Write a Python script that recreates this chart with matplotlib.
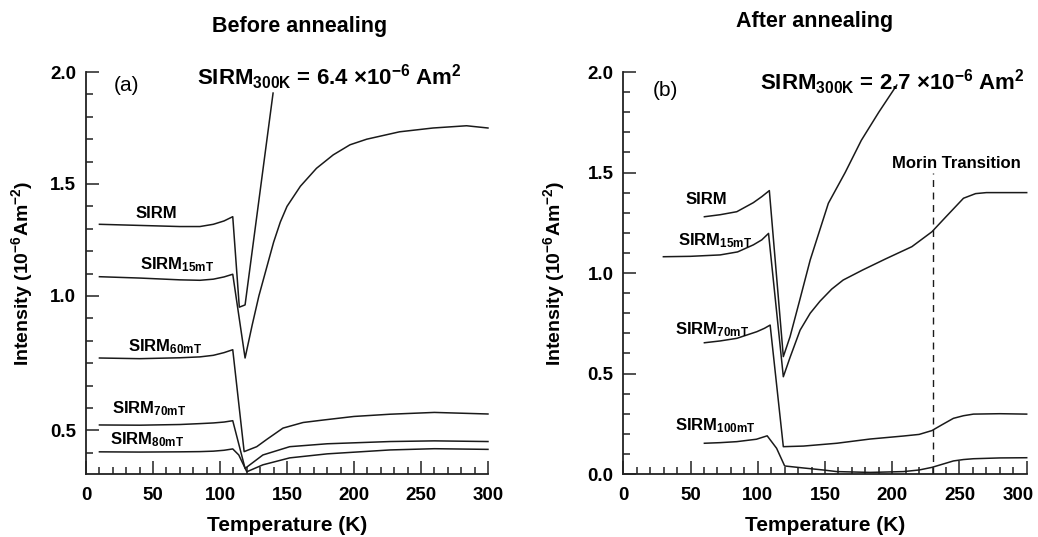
import matplotlib.pyplot as plt
import matplotlib.transforms as mtransforms
import numpy as np

plt.rcParams['font.family'] = ['Liberation Sans', 'DejaVu Sans']
plt.rcParams['mathtext.fontset'] = 'custom'
plt.rcParams['mathtext.rm'] = 'Liberation Sans:bold'
plt.rcParams['mathtext.bf'] = 'Liberation Sans:bold'
plt.rcParams['mathtext.it'] = 'Liberation Sans:bold'
plt.rcParams['mathtext.default'] = 'bf'

# ---- panel (a): before annealing ----
a_T_sirm = [10, 40, 70, 85, 95, 103, 109.5, 114.4, 118.7, 139.6]
a_sirm = [1.32, 1.315, 1.31, 1.31, 1.32, 1.335, 1.354, 0.95, 0.96, 1.906]

a_T_15 = [10, 40, 70, 85, 95, 103, 109.5, 118.7, 124, 129, 134.5, 140, 145, 150,
          160, 172, 184.5, 197, 209.5, 234, 259, 284, 300]
a_15 = [1.086, 1.08, 1.072, 1.07, 1.075, 1.085, 1.097, 0.723, 0.87, 1.0, 1.12, 1.24,
        1.33, 1.40, 1.49, 1.57, 1.63, 1.675, 1.70, 1.733, 1.75, 1.76, 1.75]

a_T_60 = [10, 40, 70, 85, 95, 103, 109.5, 118, 127.4, 135, 147, 162, 177, 200, 227, 260, 300]
a_60 = [0.723, 0.72, 0.724, 0.728, 0.735, 0.747, 0.76, 0.305, 0.327, 0.36, 0.41, 0.435,
        0.446, 0.462, 0.472, 0.48, 0.473]

a_T_70 = [10, 40, 70, 85, 95, 103, 109.5, 118.7, 132, 152, 180, 227, 260, 300]
a_70 = [0.424, 0.423, 0.426, 0.43, 0.433, 0.437, 0.443, 0.23, 0.29, 0.327, 0.34, 0.35,
        0.353, 0.35]

a_T_80 = [10, 40, 70, 85, 95, 103, 109.5, 114, 120, 132, 152, 180, 227, 260, 300]
a_80 = [0.304, 0.303, 0.304, 0.305, 0.307, 0.311, 0.317, 0.29, 0.215, 0.246, 0.277,
        0.295, 0.3125, 0.318, 0.315]

# ---- panel (b): after annealing ----
b_T_sirm = [60.3, 72, 84.4, 96.7, 103, 108.6, 119, 124, 131, 139, 152.5, 165, 177, 190, 203.4]
b_sirm = [1.28, 1.29, 1.305, 1.35, 1.38, 1.41, 0.584, 0.683, 0.86, 1.065, 1.347, 1.50,
          1.66, 1.80, 1.935]

b_T_15 = [29.8, 50, 72, 85, 96.7, 103, 108, 119, 124, 131.5, 139, 146.3, 155, 163.5,
          178, 195, 214.6, 229.5, 240, 253, 262, 270, 285, 300]
b_15 = [1.081, 1.083, 1.09, 1.105, 1.14, 1.165, 1.197, 0.484, 0.58, 0.716, 0.80, 0.86,
        0.92, 0.965, 1.015, 1.07, 1.131, 1.205, 1.28, 1.372, 1.395, 1.40, 1.40, 1.40]

b_T_70 = [60.3, 72, 84.4, 99.3, 105, 109.2, 119, 134, 158.8, 183.5, 208.3, 220, 229.5,
          237, 245.5, 253, 260.4, 280, 300]
b_70 = [0.653, 0.662, 0.675, 0.708, 0.725, 0.741, 0.136, 0.139, 0.153, 0.174, 0.189,
        0.197, 0.216, 0.245, 0.277, 0.29, 0.298, 0.3, 0.298]

b_T_100 = [60.3, 72, 84.4, 99, 107, 114, 120, 134, 148.7, 158.8, 183.5, 208.3, 220,
           229.5, 237, 245.5, 253, 260.4, 280, 300]
b_100 = [0.153, 0.156, 0.161, 0.173, 0.19, 0.128, 0.04, 0.03, 0.02, 0.012, 0.008,
         0.012, 0.02, 0.033, 0.048, 0.065, 0.072, 0.076, 0.08, 0.081]

morin_T = 230

a_yticks = [0.4, 1.0, 1.5, 2.0]
a_yticklabels = ['0.5', '1.0', '1.5', '2.0']
b_yticks = [0.0, 0.5, 1.0, 1.5, 2.0]
b_yticklabels = ['0.0', '0.5', '1.0', '1.5', '2.0']
xticks = [0, 50, 100, 150, 200, 250, 300]

fig = plt.figure(figsize=(10.38, 5.37), dpi=100)
ax1 = fig.add_axes([0.0829, 0.1173, 0.3872, 0.7486])
ax2 = fig.add_axes([0.6005, 0.1173, 0.3886, 0.7486])

lc = '#1a1a1a'
lw = 1.1


def style(ax, ylim, yticks, ylabels, minor_y):
    ax.set_xlim(0, 300)
    ax.set_ylim(*ylim)
    for s in ['top', 'right']:
        ax.spines[s].set_visible(False)
    for s in ['left', 'bottom']:
        ax.spines[s].set_linewidth(1.3)
        ax.spines[s].set_color('#222222')
    ax.set_xticks(xticks)
    ax.set_xticklabels([str(t) for t in xticks])
    ax.set_xticks(np.arange(10, 300, 10), minor=True)
    ax.set_yticks(yticks)
    ax.set_yticklabels(ylabels)
    ax.set_yticks(minor_y, minor=True)
    ax.tick_params(which='both', direction='in', width=1.1, color='#222222')
    ax.tick_params(which='major', length=9.5)
    ax.tick_params(which='minor', length=4.8)
    ax.tick_params(axis='x', which='major', pad=9, labelsize=13.5)
    ax.tick_params(axis='y', which='major', pad=7, labelsize=13.5)
    for lab in ax.get_xticklabels() + ax.get_yticklabels():
        lab.set_fontweight('bold')
    ax.set_xlabel('Temperature (K)', fontsize=15, fontweight='bold', labelpad=9)
    ax.set_ylabel('Intensity (10$^{-6}$Am$^{-2}$)', fontsize=14, fontweight='bold')


style(ax1, (0.205, 2.0), a_yticks, a_yticklabels, np.arange(0.3, 2.0, 0.1))
style(ax2, (0.0, 2.0), b_yticks, b_yticklabels, np.arange(0.1, 2.0, 0.1))
ax1.yaxis.set_label_coords(-0.126, 0.5)
ax2.yaxis.set_label_coords(-0.14, 0.5)

# last x label of the right panel sits a little left so it stays inside the figure
shift = mtransforms.ScaledTranslation(-8 / 100, 0, fig.dpi_scale_trans)
last = ax2.xaxis.get_major_ticks()[-1].label1
last.set_transform(last.get_transform() + shift)

for T, v in [(a_T_sirm, a_sirm), (a_T_15, a_15), (a_T_60, a_60), (a_T_70, a_70), (a_T_80, a_80)]:
    ax1.plot(T, v, color=lc, lw=lw, clip_on=False)
for T, v in [(b_T_sirm, b_sirm), (b_T_15, b_15), (b_T_70, b_70), (b_T_100, b_100)]:
    ax2.plot(T, v, color=lc, lw=lw, clip_on=False)

ax2.plot([morin_T, morin_T], [0, 1.5], color=lc, lw=1.0, ls=(0, (5, 4)))
ax2.text(247.5, 1.547, 'Morin Transition', ha='center', va='center', fontsize=12, fontweight='bold')

lab_kw = dict(ha='left', va='center', fontsize=12, fontweight='bold')
ax1.text(36.6, 1.37, 'SIRM', **lab_kw)
ax1.text(40.3, 1.14, 'SIRM$_{15mT}$', **lab_kw)
ax1.text(31.3, 0.775, 'SIRM$_{60mT}$', **lab_kw)
ax1.text(19.4, 0.495, 'SIRM$_{70mT}$', **lab_kw)
ax1.text(17.9, 0.357, 'SIRM$_{80mT}$', **lab_kw)

ax2.text(45.9, 1.368, 'SIRM', **lab_kw)
ax2.text(40.6, 1.16, 'SIRM$_{15mT}$', **lab_kw)
ax2.text(38.5, 0.72, 'SIRM$_{70mT}$', **lab_kw)
ax2.text(38.5, 0.24, 'SIRM$_{100mT}$', **lab_kw)

ax1.text(30.4, 1.942, '(a)', ha='center', va='center', fontsize=15)
ax2.text(31, 1.91, '(b)', ha='center', va='center', fontsize=15)

fig.text(0.289, 0.950, 'Before annealing', ha='center', va='center', fontsize=15.5, fontweight='bold')
fig.text(0.785, 0.960, 'After annealing', ha='center', va='center', fontsize=15.5, fontweight='bold')
fig.text(0.317, 0.857, 'SIRM$_{300K}$ = 6.4 \u00d710$^{-6}$ Am$^{2}$', ha='center', va='center',
         fontsize=16, fontweight='bold')
fig.text(0.860, 0.847, 'SIRM$_{300K}$ = 2.7 \u00d710$^{-6}$ Am$^{2}$', ha='center', va='center',
         fontsize=16, fontweight='bold')

fig.savefig('out.png', dpi=100)
